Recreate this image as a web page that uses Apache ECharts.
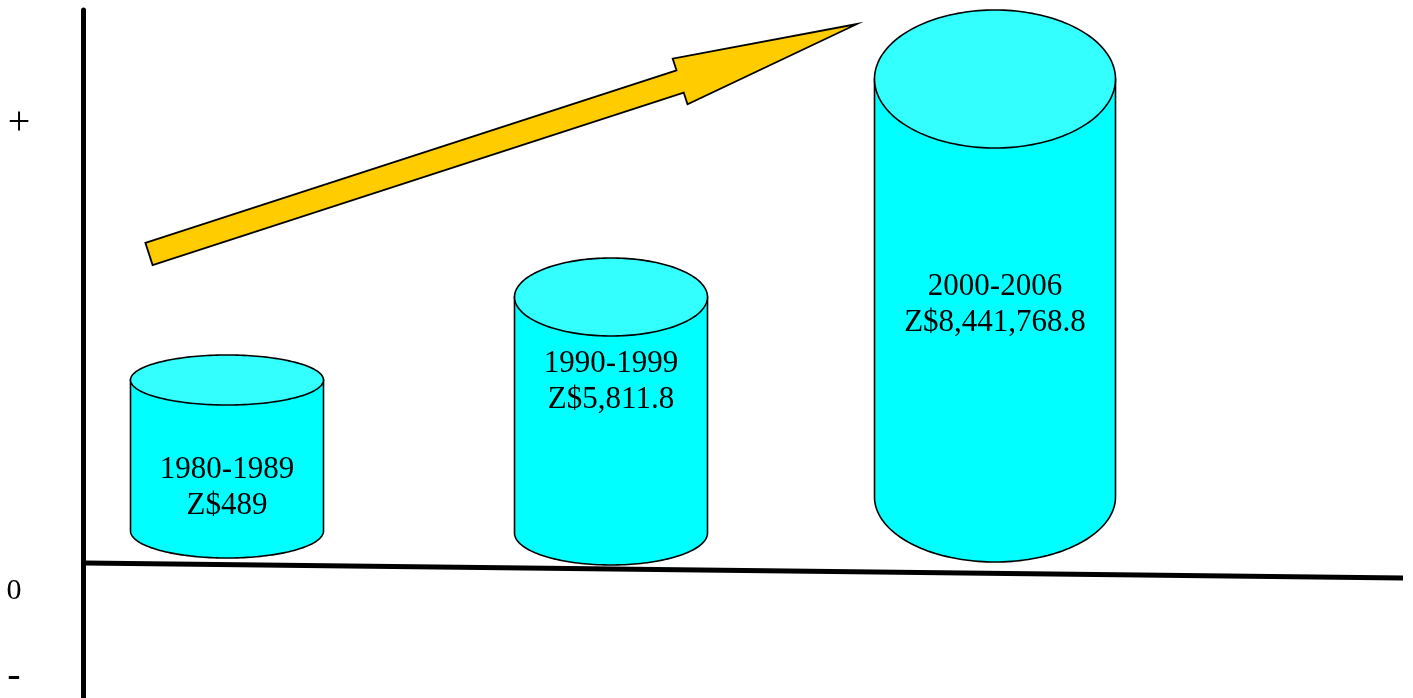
<!DOCTYPE html>
<html><head><meta charset="utf-8">
<script src="https://cdn.jsdelivr.net/npm/echarts@6/dist/echarts.min.js"></script>
<style>html,body{margin:0;padding:0;background:#fff}#c{width:1413px;height:698px}</style>
</head><body><div id="c"></div>
<script>
// ---- data (schematic levels) ----
var periods = ['1980-1989', '1990-1999', '2000-2006'];
var amounts = ['Z$489', 'Z$5,811.8', 'Z$8,441,768.8'];
var cylTop = [211, 294, 512];
var cylBase = [60, 58, 94];
var yTickValues = [468, 0, -85];
var yTickLabels = ['+', '0', '-'];
var baselineX = [2, 1320];
var baselineY = [28, 13];
var arrowFrom = [66, 337];
var arrowTo = [774, 567];

// ---- styles ----
var CYL = { rx: [96.5, 96.5, 120.5], topRy: [25, 39, 69], baseRy: [27, 32, 65], labelDy: [108, 85, 226] };
var ARROW = { shaftHalf: 11.7, headHalf: 24, headLen: 186 };
var FONT = 'Liberation Serif, Times New Roman, serif';

var chart = echarts.init(document.getElementById('c'), null, { renderer: 'canvas' });

function cylinderItem(params, api) {
  var i = params.dataIndex;
  var t = api.coord([api.value(0), api.value(1)]);
  var b = api.coord([api.value(0), api.value(2)]);
  var cx = t[0], ty = t[1], by = b[1];
  var rx = CYL.rx[i], tr = CYL.topRy[i], br = CYL.baseRy[i];
  var N = 90, k, a;
  var body = [[cx - rx, ty], [cx - rx, by]];
  for (k = 1; k < N; k++) {
    a = Math.PI - Math.PI * k / N;
    body.push([cx + rx * Math.cos(a), by + br * Math.sin(a)]);
  }
  body.push([cx + rx, by], [cx + rx, ty]);
  var lid = [];
  for (k = 0; k < 2 * N; k++) {
    a = Math.PI * k / N;
    lid.push([cx + rx * Math.cos(a), ty + tr * Math.sin(a)]);
  }
  return {
    type: 'group',
    children: [
      { type: 'polygon', shape: { points: body }, style: { fill: '#00FFFF', stroke: '#000', lineWidth: 1.6 } },
      { type: 'polygon', shape: { points: lid }, style: { fill: '#33FFFF', stroke: '#000', lineWidth: 1.6 } },
      { type: 'text', style: {
          text: periods[i] + '\n' + amounts[i], x: cx, y: ty + CYL.labelDy[i],
          align: 'center', verticalAlign: 'middle', fontSize: 31, lineHeight: 36,
          fontFamily: FONT, fill: '#000' } }
    ]
  };
}

function arrowItem(params, api) {
  var p0 = api.coord([api.value(0), api.value(1)]);
  var p1 = api.coord([api.value(2), api.value(3)]);
  var dx = p1[0] - p0[0], dy = p1[1] - p0[1];
  var L = Math.sqrt(dx * dx + dy * dy);
  var ux = dx / L, uy = dy / L, nx = -uy, ny = ux;
  var hb = [p1[0] - ux * ARROW.headLen, p1[1] - uy * ARROW.headLen];
  var w = ARROW.shaftHalf, H = ARROW.headHalf;
  var pts = [
    [p0[0] - nx * w, p0[1] - ny * w],
    [hb[0] - nx * w, hb[1] - ny * w],
    [hb[0] - nx * H, hb[1] - ny * H],
    [p1[0], p1[1]],
    [hb[0] + nx * H, hb[1] + ny * H],
    [hb[0] + nx * w, hb[1] + ny * w],
    [p0[0] + nx * w, p0[1] + ny * w]
  ];
  return { type: 'polygon', shape: { points: pts }, style: { fill: '#FFCC00', stroke: '#000', lineWidth: 1.8, lineJoin: 'miter' } };
}

var richMap = { '+': 'p', '0': 'z', '-': 'm' };

chart.setOption({
  backgroundColor: '#fff',
  animation: false,
  grid: [
    { left: 83, right: 10, top: 10, bottom: 0 },
    { left: 35, width: 1152, top: 10, bottom: 0 }
  ],
  xAxis: [
    { type: 'value', gridIndex: 0, min: 0, max: 1320, show: false },
    { type: 'category', gridIndex: 1, data: periods, show: false }
  ],
  yAxis: [
    { type: 'value', gridIndex: 0, min: -107, max: 581,
      axisLine: { show: true, lineStyle: { color: '#000', width: 5 } },
      axisTick: { show: false }, splitLine: { show: false },
      axisLabel: {
        show: true, customValues: yTickValues, margin: 68, align: 'center',
        formatter: function (v) {
          var i = yTickValues.indexOf(v);
          if (i < 0) return '';
          return '{' + richMap[yTickLabels[i]] + '|' + yTickLabels[i] + '}';
        },
        rich: {
          p: { fontSize: 40, fontFamily: FONT, color: '#000', padding: [0, 0, 0, 8] },
          z: { fontSize: 30, fontFamily: FONT, color: '#000', padding: [0, 2, 0, 0] },
          m: { fontSize: 40, fontFamily: FONT, color: '#000', padding: [0, 2, 0, 0] }
        }
      }
    },
    { type: 'value', gridIndex: 1, min: -107, max: 581, show: false }
  ],
  series: [
    { type: 'custom', xAxisIndex: 1, yAxisIndex: 1, clip: false, z: 2,
      renderItem: cylinderItem,
      data: periods.map(function (p, i) { return [i, cylTop[i], cylBase[i]]; }) },
    { type: 'line', xAxisIndex: 0, yAxisIndex: 0, z: 3, symbol: 'none', silent: true,
      lineStyle: { color: '#000', width: 5 },
      data: baselineX.map(function (x, i) { return [x, baselineY[i]]; }) },
    { type: 'custom', xAxisIndex: 0, yAxisIndex: 0, clip: false, z: 4,
      renderItem: arrowItem,
      data: [[arrowFrom[0], arrowFrom[1], arrowTo[0], arrowTo[1]]] }
  ]
});
</script></body></html>
